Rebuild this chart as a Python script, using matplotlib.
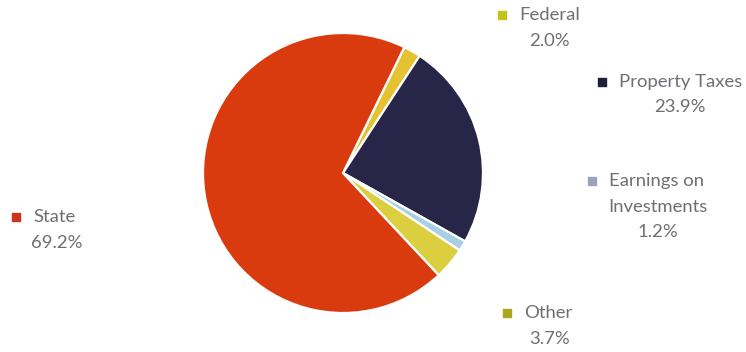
import matplotlib

matplotlib.use("Agg")
import matplotlib.pyplot as plt  # noqa: E402

plt.rcParams["font.family"] = ["Lato", "DejaVu Sans"]

# revenue sources, clockwise from the top
sources = ["Federal", "Property Taxes", "Earnings on\nInvestments", "Other", "State"]
shares = [2.0, 23.9, 1.2, 3.7, 69.2]
slice_colors = ["#e4c231", "#272649", "#a9d0e2", "#dccf3f", "#da3b0e"]
key_colors = ["#c4c21b", "#1d2036", "#9ba4bc", "#aaa71a", "#c9341b"]

# label anchors in pixels (marker x, first line y, text center x)
label_pos = [(502, 15, 549), (602, 82, 680), (592, 181, 658), (507, 313, 550), (16, 217, 57)]

W, H = 746, 352
fig = plt.figure(figsize=(W / 100, H / 100), dpi=100)
ax = fig.add_axes([0, 0, 1, 1])

ax.pie(shares, colors=slice_colors, startangle=64, counterclock=False,
       center=(343, H - 173), radius=140, frame=True,
       wedgeprops=dict(edgecolor="white", linewidth=1.6))
ax.set_xlim(0, W)
ax.set_ylim(0, H)
ax.axis("off")

txt = "#6e6e74"
for name, val, kc, (mx, my, cx) in zip(sources, shares, key_colors, label_pos):
    ax.scatter([mx], [H - my], marker="s", s=40, color=kc, zorder=3)
    lines = name.split("\n")
    ax.text(mx + 17, H - my, lines[0], ha="left", va="center", fontsize=13.3, color=txt)
    rest = lines[1:] + [f"{val:.1f}%"]
    for i, s in enumerate(rest):
        ax.text(cx, H - my - 25.5 * (i + 1), s, ha="center", va="center",
                fontsize=13.3, color=txt)

fig.savefig("out.png", dpi=100, facecolor="white")
